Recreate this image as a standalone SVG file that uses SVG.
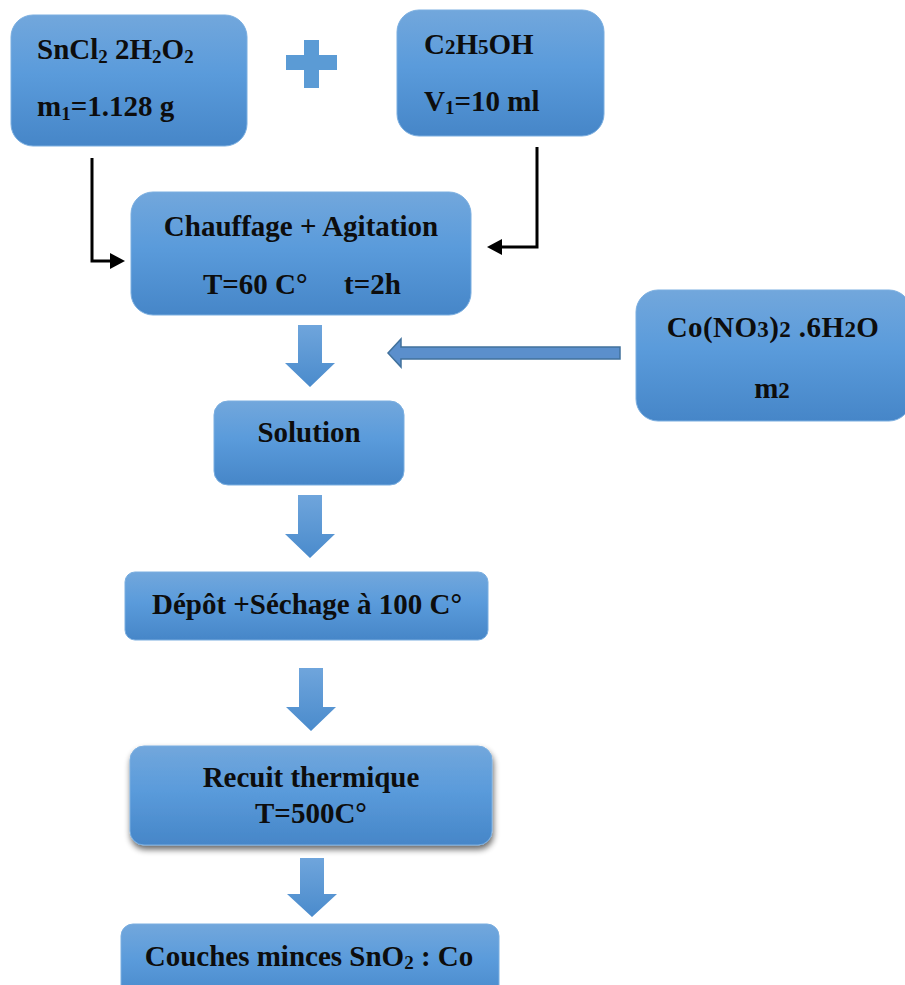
<svg xmlns="http://www.w3.org/2000/svg" width="905" height="985" viewBox="0 0 905 985">
<defs>
<linearGradient id="g" x1="0" y1="0" x2="0" y2="1">
<stop offset="0" stop-color="#72a7dc"/>
<stop offset="0.45" stop-color="#5a9bdb"/>
<stop offset="1" stop-color="#4686c8"/>
</linearGradient>
<linearGradient id="ga" x1="0" y1="0" x2="0" y2="1">
<stop offset="0" stop-color="#6fa5dc"/>
<stop offset="1" stop-color="#4a8bcc"/>
</linearGradient>
<filter id="sh" x="-10%" y="-10%" width="125%" height="135%">
<feGaussianBlur in="SourceAlpha" stdDeviation="3"/>
<feOffset dx="1" dy="4" result="b"/>
<feComponentTransfer><feFuncA type="linear" slope="0.6"/></feComponentTransfer>
<feMerge><feMergeNode/><feMergeNode in="SourceGraphic"/></feMerge>
</filter>
</defs>
<style>
.box{fill:url(#g);stroke:#7aaee0;stroke-width:1}
.t{font-family:"Liberation Serif","Times New Roman",serif;font-weight:bold;font-size:29px;fill:#0d0d0d}
.c{text-anchor:middle}
.sub{font-size:19px}
.sub2{font-size:21px}
.blk{fill:url(#ga)}
.ln{fill:none;stroke:#000;stroke-width:3}
</style>

<g id="n-sncl2">
<rect class="box" x="11" y="15" width="236" height="131" rx="22"/>
<text class="t" x="37" y="59">SnCl<tspan class="sub" dy="4">2</tspan><tspan dy="-4"> 2H</tspan><tspan class="sub" dy="4">2</tspan><tspan dy="-4">O</tspan><tspan class="sub" dy="4">2</tspan></text>
<text class="t" x="37" y="116">m<tspan class="sub" dy="4">1</tspan><tspan dy="-4">=1.128 g</tspan></text>
</g>

<g id="plus">
<rect x="286" y="55" width="51" height="15" fill="#5b9bd5"/>
<rect x="304" y="40" width="15" height="48" fill="#5b9bd5"/>
</g>

<g id="n-ethanol">
<rect class="box" x="397" y="10" width="207" height="126" rx="22"/>
<text class="t" x="424" y="54">C<tspan class="sub2">2</tspan>H<tspan class="sub2">5</tspan>OH</text>
<text class="t" x="424" y="111">V<tspan class="sub" dy="3">1</tspan><tspan dy="-3">=10 ml</tspan></text>
</g>

<g id="n-chauffage">
<rect class="box" x="131" y="192" width="340" height="123" rx="22"/>
<text class="t c" x="301" y="236">Chauffage + Agitation</text>
<text class="t" x="203" y="294">T=60 C°<tspan x="344">t=2h</tspan></text>
</g>

<g id="n-cobalt">
<rect class="box" x="636" y="290" width="275" height="131" rx="22"/>
<text class="t c" x="773" y="337" font-size="30" letter-spacing="0.4">Co(NO<tspan font-size="23">3</tspan>)<tspan font-size="23">2</tspan> .6H<tspan font-size="23">2</tspan>O</text>
<text class="t c" x="772" y="398">m<tspan font-size="23">2</tspan></text>
</g>

<g id="n-solution">
<rect class="box" x="214" y="401" width="190" height="84" rx="14"/>
<text class="t c" x="309" y="442">Solution</text>
</g>

<g id="n-depot">
<rect class="box" x="125" y="572" width="363" height="68" rx="10"/>
<text class="t c" x="307" y="614">Dépôt +Séchage à 100 C°</text>
</g>

<g id="n-recuit">
<rect class="box" x="130" y="746" width="362" height="99" rx="14" filter="url(#sh)"/>
<text class="t c" x="311" y="787">Recuit thermique</text>
<text class="t c" x="311" y="823">T=500C°</text>
</g>

<g id="n-couches">
<rect class="box" x="121" y="924" width="378" height="80" rx="12"/>
<text class="t c" x="309" y="966">Couches minces SnO<tspan class="sub" dy="3">2</tspan><tspan dy="-3"> : Co</tspan></text>
</g>

<g id="connectors">
<path class="ln" d="M92,158 V261 H112"/>
<path d="M110,253 L125,261 L110,269 z" fill="#000"/>
<path class="ln" d="M537,147 V247 H500"/>
<path d="M502,239 L487,247 L502,255 z" fill="#000"/>
<path class="blk" d="M298,325 H322 V363 H335 L310,387 L285,363 H298 z"/>
<path class="blk" d="M298,495 H322 V534 H335 L310,558 L285,534 H298 z"/>
<path class="blk" d="M299,668 H323 V707 H336 L311,731 L286,707 H299 z"/>
<path class="blk" d="M300,858 H324 V894 H337 L312,917 L287,894 H300 z"/>
<path d="M620,347 V359 H401 V367 L388,353 L401,339 V347 z" fill="#5b8fcc" stroke="#41719c" stroke-width="1.5"/>
</g>
</svg>
